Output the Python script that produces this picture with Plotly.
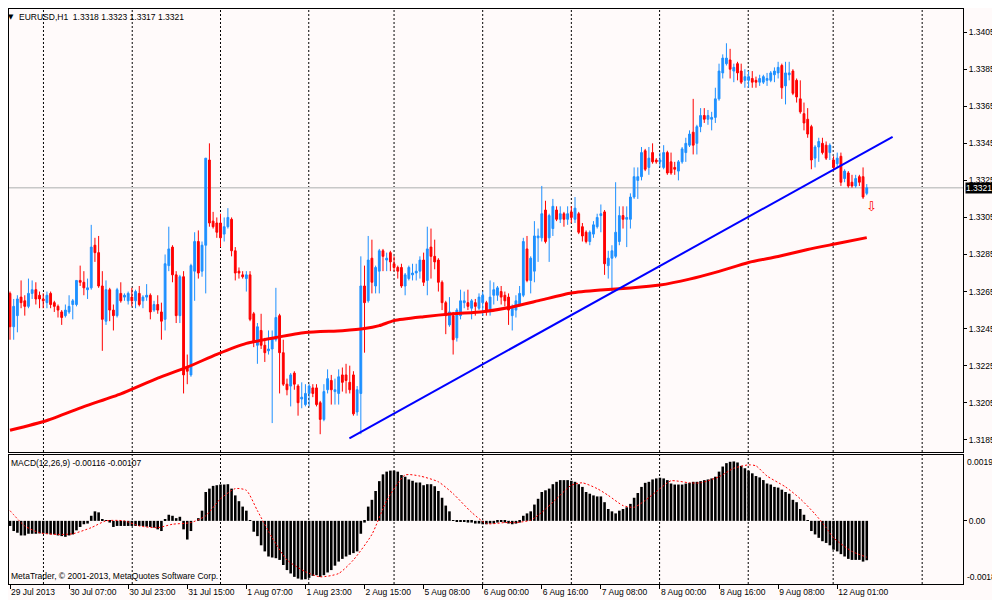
import plotly.graph_objects as go
from plotly.subplots import make_subplots

# EURUSD H1, bars 29 Jul 2013 15:00 .. 12 Aug 2013 09:00 (bar index = x)
SYMBOL = "EURUSD,H1"

OPEN = [
    1.3264, 1.3246, 1.3252, 1.3262, 1.3260, 1.3257, 1.3264, 1.3266, 1.3263, 1.3261,
    1.3259, 1.3264, 1.3259, 1.3257, 1.3254, 1.3252, 1.3254, 1.3258, 1.3258, 1.3271,
    1.3270, 1.3266, 1.3267, 1.3290, 1.3286, 1.3268, 1.3249, 1.3266, 1.3255, 1.3252,
    1.3264, 1.3262, 1.3260, 1.3262, 1.3260, 1.3264, 1.3260, 1.3262, 1.3263, 1.3255,
    1.3258, 1.3254, 1.3250, 1.3279, 1.3289, 1.3274, 1.3252, 1.3273, 1.3224, 1.3220,
    1.3276, 1.3292, 1.3276, 1.3290, 1.3336, 1.3303, 1.3302, 1.3302, 1.3296, 1.3300,
    1.3304, 1.3287, 1.3276, 1.3274, 1.3272, 1.3274, 1.3253, 1.3236, 1.3244, 1.3236,
    1.3233, 1.3234, 1.3239, 1.3252, 1.3232, 1.3215, 1.3214, 1.3221, 1.3214, 1.3207,
    1.3204, 1.3210, 1.3213, 1.3213, 1.3205, 1.3196, 1.3212, 1.3217, 1.3211, 1.3210,
    1.3220, 1.3220, 1.3216, 1.3220, 1.3200, 1.3210, 1.3268, 1.3260, 1.3283, 1.3268,
    1.3276, 1.3287, 1.3282, 1.3286, 1.3280, 1.3278, 1.3278, 1.3268, 1.3272, 1.3274,
    1.3275, 1.3276, 1.3282, 1.3271, 1.3289, 1.3284, 1.3282, 1.3270, 1.3259, 1.3247,
    1.3252, 1.3240, 1.3252, 1.3259, 1.3259, 1.3256, 1.3259, 1.3256, 1.3259, 1.3259,
    1.3255, 1.3263, 1.3263, 1.3265, 1.3263, 1.3262, 1.3252, 1.3255, 1.3258, 1.3263,
    1.3288, 1.3271, 1.3276, 1.3294, 1.3294, 1.3309, 1.3294, 1.3299, 1.3309, 1.3304,
    1.3307, 1.3304, 1.3308, 1.3304, 1.3307, 1.3300, 1.3297, 1.3292, 1.3296, 1.3300,
    1.3306, 1.3308, 1.3279, 1.3283, 1.3284, 1.3292, 1.3306, 1.3304, 1.3304, 1.3316,
    1.3325, 1.3327, 1.3341, 1.3332, 1.3340, 1.3336, 1.3335, 1.3332, 1.3340, 1.3335,
    1.3332, 1.3330, 1.3335, 1.3340, 1.3344, 1.3351, 1.3345, 1.3354, 1.3360, 1.3358,
    1.3358, 1.3359, 1.3369, 1.3383, 1.3388, 1.3390, 1.3384, 1.3388, 1.3384, 1.3379,
    1.3379, 1.3380, 1.3379, 1.3378, 1.3378, 1.3379, 1.3379, 1.3382, 1.3383, 1.3387,
    1.3376, 1.3382, 1.3384, 1.3379, 1.3369, 1.3361, 1.3358, 1.3354, 1.3337, 1.3343,
    1.3345, 1.3344, 1.3340, 1.3336, 1.3334, 1.3338, 1.3326, 1.3329, 1.3324, 1.3322,
    1.3327, 1.3327, 1.3318,
]
HIGH = [
    1.3265, 1.3261, 1.3263, 1.3271, 1.3263, 1.3272, 1.3271, 1.3270, 1.3265, 1.3264,
    1.3265, 1.3265, 1.3260, 1.3258, 1.3255, 1.3258, 1.3263, 1.3261, 1.3271, 1.3279,
    1.3276, 1.3272, 1.3301, 1.3294, 1.3295, 1.3276, 1.3271, 1.3267, 1.3258, 1.3267,
    1.3270, 1.3264, 1.3265, 1.3267, 1.3266, 1.3268, 1.3263, 1.3269, 1.3264, 1.3260,
    1.3263, 1.3259, 1.3285, 1.3300, 1.3290, 1.3276, 1.3274, 1.3276, 1.3231, 1.3280,
    1.3297, 1.3298, 1.3292, 1.3337, 1.3345, 1.3308, 1.3305, 1.3307, 1.3305, 1.3310,
    1.3305, 1.3289, 1.3278, 1.3276, 1.3276, 1.3276, 1.3254, 1.3248, 1.3253, 1.3240,
    1.3244, 1.3244, 1.3267, 1.3253, 1.3239, 1.3218, 1.3221, 1.3222, 1.3215, 1.3216,
    1.3215, 1.3215, 1.3215, 1.3215, 1.3206, 1.3215, 1.3223, 1.3220, 1.3218, 1.3223,
    1.3224, 1.3226, 1.3225, 1.3222, 1.3214, 1.3284, 1.3279, 1.3295, 1.3293, 1.3279,
    1.3288, 1.3288, 1.3286, 1.3287, 1.3284, 1.3279, 1.3280, 1.3275, 1.3279, 1.3280,
    1.3280, 1.3284, 1.3286, 1.3300, 1.3299, 1.3293, 1.3283, 1.3271, 1.3260, 1.3262,
    1.3254, 1.3256, 1.3266, 1.3265, 1.3266, 1.3261, 1.3261, 1.3264, 1.3265, 1.3260,
    1.3271, 1.3270, 1.3268, 1.3268, 1.3265, 1.3264, 1.3258, 1.3263, 1.3268, 1.3294,
    1.3295, 1.3284, 1.3303, 1.3299, 1.3322, 1.3314, 1.3307, 1.3315, 1.3311, 1.3311,
    1.3308, 1.3311, 1.3311, 1.3316, 1.3308, 1.3302, 1.3298, 1.3298, 1.3303, 1.3307,
    1.3312, 1.3309, 1.3287, 1.3290, 1.3324, 1.3311, 1.3311, 1.3311, 1.3318, 1.3332,
    1.3332, 1.3343, 1.3342, 1.3343, 1.3345, 1.3337, 1.3340, 1.3344, 1.3341, 1.3340,
    1.3335, 1.3336, 1.3343, 1.3348, 1.3352, 1.3369, 1.3355, 1.3364, 1.3364, 1.3363,
    1.3362, 1.3375, 1.3388, 1.3393, 1.3399, 1.3396, 1.3388, 1.3389, 1.3388, 1.3385,
    1.3384, 1.3384, 1.3381, 1.3382, 1.3382, 1.3383, 1.3384, 1.3386, 1.3389, 1.3388,
    1.3389, 1.3389, 1.3385, 1.3380, 1.3379, 1.3367, 1.3364, 1.3355, 1.3344, 1.3348,
    1.3348, 1.3346, 1.3345, 1.3338, 1.3340, 1.3340, 1.3331, 1.3330, 1.3328, 1.3328,
    1.3328, 1.3332, 1.3323,
]
LOW = [
    1.3239, 1.3239, 1.3243, 1.3256, 1.3252, 1.3256, 1.3261, 1.3258, 1.3256, 1.3256,
    1.3256, 1.3256, 1.3254, 1.3251, 1.3247, 1.3251, 1.3253, 1.3250, 1.3257, 1.3268,
    1.3263, 1.3261, 1.3266, 1.3281, 1.3267, 1.3233, 1.3247, 1.3249, 1.3244, 1.3251,
    1.3259, 1.3260, 1.3258, 1.3257, 1.3256, 1.3257, 1.3256, 1.3260, 1.3250, 1.3254,
    1.3253, 1.3239, 1.3244, 1.3276, 1.3270, 1.3248, 1.3248, 1.3210, 1.3215, 1.3219,
    1.3260, 1.3272, 1.3273, 1.3264, 1.3300, 1.3299, 1.3294, 1.3289, 1.3292, 1.3299,
    1.3284, 1.3271, 1.3272, 1.3272, 1.3265, 1.3249, 1.3235, 1.3226, 1.3234, 1.3227,
    1.3231, 1.3194, 1.3238, 1.3210, 1.3214, 1.3209, 1.3203, 1.3212, 1.3198, 1.3202,
    1.3203, 1.3203, 1.3208, 1.3203, 1.3188, 1.3195, 1.3210, 1.3204, 1.3204, 1.3204,
    1.3211, 1.3210, 1.3210, 1.3198, 1.3198, 1.3188, 1.3232, 1.3259, 1.3264, 1.3264,
    1.3264, 1.3276, 1.3276, 1.3276, 1.3276, 1.3272, 1.3267, 1.3263, 1.3271, 1.3271,
    1.3271, 1.3272, 1.3268, 1.3263, 1.3272, 1.3277, 1.3265, 1.3255, 1.3242, 1.3246,
    1.3231, 1.3238, 1.3250, 1.3256, 1.3255, 1.3250, 1.3252, 1.3255, 1.3252, 1.3252,
    1.3252, 1.3258, 1.3260, 1.3258, 1.3257, 1.3247, 1.3244, 1.3251, 1.3257, 1.3262,
    1.3270, 1.3264, 1.3270, 1.3281, 1.3292, 1.3291, 1.3281, 1.3295, 1.3303, 1.3302,
    1.3300, 1.3301, 1.3302, 1.3302, 1.3296, 1.3292, 1.3291, 1.3290, 1.3294, 1.3299,
    1.3297, 1.3274, 1.3272, 1.3265, 1.3283, 1.3290, 1.3299, 1.3289, 1.3299, 1.3315,
    1.3315, 1.3325, 1.3330, 1.3328, 1.3334, 1.3334, 1.3332, 1.3331, 1.3328, 1.3328,
    1.3328, 1.3325, 1.3334, 1.3335, 1.3343, 1.3339, 1.3339, 1.3351, 1.3356, 1.3355,
    1.3352, 1.3356, 1.3368, 1.3380, 1.3387, 1.3380, 1.3378, 1.3379, 1.3377, 1.3375,
    1.3375, 1.3375, 1.3375, 1.3376, 1.3377, 1.3376, 1.3378, 1.3378, 1.3380, 1.3369,
    1.3366, 1.3379, 1.3371, 1.3367, 1.3361, 1.3352, 1.3348, 1.3331, 1.3332, 1.3335,
    1.3339, 1.3336, 1.3336, 1.3331, 1.3332, 1.3322, 1.3324, 1.3321, 1.3321, 1.3321,
    1.3322, 1.3315, 1.3317,
]
CLOSE = [
    1.3246, 1.3257, 1.3261, 1.3259, 1.3257, 1.3264, 1.3266, 1.3261, 1.3261, 1.3260,
    1.3263, 1.3258, 1.3257, 1.3255, 1.3251, 1.3255, 1.3257, 1.3260, 1.3271, 1.3270,
    1.3267, 1.3267, 1.3289, 1.3286, 1.3268, 1.3250, 1.3266, 1.3255, 1.3252, 1.3266,
    1.3260, 1.3263, 1.3264, 1.3260, 1.3265, 1.3258, 1.3262, 1.3263, 1.3254, 1.3258,
    1.3255, 1.3249, 1.3280, 1.3288, 1.3274, 1.3252, 1.3273, 1.3220, 1.3222, 1.3279,
    1.3292, 1.3275, 1.3290, 1.3337, 1.3302, 1.3300, 1.3297, 1.3294, 1.3300, 1.3305,
    1.3287, 1.3275, 1.3275, 1.3273, 1.3274, 1.3250, 1.3238, 1.3246, 1.3236, 1.3232,
    1.3234, 1.3240, 1.3251, 1.3232, 1.3215, 1.3212, 1.3220, 1.3215, 1.3205, 1.3208,
    1.3210, 1.3214, 1.3210, 1.3204, 1.3196, 1.3211, 1.3218, 1.3212, 1.3212, 1.3219,
    1.3216, 1.3217, 1.3212, 1.3199, 1.3212, 1.3268, 1.3259, 1.3282, 1.3270, 1.3278,
    1.3287, 1.3284, 1.3283, 1.3281, 1.3278, 1.3276, 1.3268, 1.3274, 1.3278, 1.3275,
    1.3276, 1.3282, 1.3270, 1.3288, 1.3284, 1.3281, 1.3270, 1.3259, 1.3252, 1.3254,
    1.3239, 1.3255, 1.3260, 1.3260, 1.3257, 1.3260, 1.3257, 1.3262, 1.3263, 1.3255,
    1.3262, 1.3266, 1.3267, 1.3262, 1.3260, 1.3255, 1.3256, 1.3260, 1.3264, 1.3292,
    1.3271, 1.3283, 1.3295, 1.3295, 1.3307, 1.3292, 1.3306, 1.3311, 1.3304, 1.3307,
    1.3304, 1.3307, 1.3305, 1.3310, 1.3297, 1.3295, 1.3292, 1.3297, 1.3301, 1.3305,
    1.3307, 1.3280, 1.3283, 1.3287, 1.3297, 1.3306, 1.3304, 1.3305, 1.3316, 1.3327,
    1.3327, 1.3340, 1.3331, 1.3337, 1.3335, 1.3335, 1.3336, 1.3340, 1.3329, 1.3329,
    1.3331, 1.3335, 1.3342, 1.3345, 1.3350, 1.3344, 1.3354, 1.3360, 1.3358, 1.3360,
    1.3359, 1.3369, 1.3384, 1.3391, 1.3391, 1.3385, 1.3386, 1.3383, 1.3378, 1.3381,
    1.3381, 1.3378, 1.3378, 1.3380, 1.3381, 1.3380, 1.3383, 1.3384, 1.3386, 1.3375,
    1.3383, 1.3383, 1.3372, 1.3370, 1.3362, 1.3356, 1.3350, 1.3336, 1.3343, 1.3346,
    1.3340, 1.3337, 1.3344, 1.3332, 1.3337, 1.3324, 1.3330, 1.3322, 1.3322, 1.3326,
    1.3324, 1.3316, 1.3321,
]

TICK_BARS = [0, 16, 32, 48, 64, 80, 96, 112, 128, 144, 160, 176, 192, 208, 224]
TICK_LABELS = ["29 Jul 2013", "30 Jul 07:00", "30 Jul 23:00", "31 Jul 15:00",
               "1 Aug 07:00", "1 Aug 23:00", "2 Aug 15:00", "5 Aug 08:00",
               "6 Aug 00:00", "6 Aug 16:00", "7 Aug 08:00", "8 Aug 00:00",
               "8 Aug 16:00", "9 Aug 08:00", "12 Aug 01:00"]

# moving average (red), read every few bars
MA_BARS = [0, 10, 20, 30, 40, 48, 56, 64, 72, 80, 90, 96, 100, 104, 112, 120,
           128, 136, 144, 152, 160, 168, 176, 184, 192, 200, 208, 216, 224, 232]
MA_PRICE = [1.31901, 1.31954, 1.32029, 1.32098, 1.32183, 1.32242, 1.32311, 1.32370,
            1.32402, 1.32429, 1.32439, 1.32450, 1.32466, 1.32493, 1.32514, 1.32530,
            1.32541, 1.32567, 1.32605, 1.32642, 1.32658, 1.32669, 1.32685, 1.32717,
            1.32759, 1.32807, 1.32839, 1.32877, 1.32909, 1.32941]

# trend line (blue)
TREND_BARS = [91.9, 239.0]
TREND_PRICE = [1.31858, 1.33485]

BID = 1.3321

# MACD(12,26,9) histogram, in 0.00001
MACD_E5 = [
    -15, -30, -35, -43, -43, -38, -38, -38, -37, -37,
    -38, -40, -40, -43, -45, -47, -43, -40, -28, -18,
    -10, -8, 15, 28, 25, 3, 2, -5, -18, -15,
    -15, -15, -15, -15, -15, -15, -15, -17, -18, -20,
    -25, -30, 5, 18, 15, 8, 12, -25, -55, -30,
    0, 8, 30, 85, 95, 103, 105, 107, 107, 108,
    95, 75, 58, 42, 30, 2, -32, -45, -72, -90,
    -105, -108, -110, -115, -130, -145, -155, -165, -170, -173,
    -172, -168, -162, -160, -165, -160, -152, -145, -132, -120,
    -112, -105, -100, -95, -90, -38, -5, 42, 62, 88,
    117, 137, 145, 148, 148, 145, 135, 130, 122, 118,
    113, 113, 105, 108, 108, 102, 88, 68, 45, 28,
    2, -2, -2, -3, -5, -5, -8, -8, -10, -10,
    -8, -8, -5, -3, -5, -8, -10, -8, -5, 15,
    22, 28, 48, 65, 85, 90, 95, 108, 115, 120,
    120, 120, 118, 115, 108, 100, 85, 80, 75, 72,
    72, 55, 35, 28, 22, 30, 35, 40, 50, 68,
    82, 100, 112, 115, 122, 125, 127, 125, 120, 110,
    107, 107, 107, 110, 112, 115, 115, 117, 120, 122,
    125, 130, 145, 160, 170, 174, 175, 172, 162, 155,
    148, 140, 132, 128, 120, 110, 107, 100, 98, 92,
    85, 80, 62, 55, 35, 18, 1, -30, -40, -50,
    -60, -65, -72, -85, -90, -98, -105, -112, -115, -115,
    -115, -120, -116,
]
# signal line (red dotted), read every few bars, in 0.00001
SIGNAL_BARS = [0, 4, 8, 13, 17, 22, 26, 31, 35, 40, 44, 49, 53, 57, 61, 64, 67,
               71, 75, 80, 84, 89, 93, 98, 102, 107, 111, 116, 120, 125, 129,
               134, 137, 141, 144, 148, 152, 155, 159, 162, 166, 169, 172, 176,
               179, 184, 187, 192, 196, 200, 202, 205, 210, 214, 218, 221, 223,
               228, 232]
SIGNAL_E5 = [30, -15, -35, -40, -38, -20, 0, 0, -15, -20, -10, -5, 15, 65, 95, 90,
             30, -50, -115, -150, -165, -155, -115, -40, 60, 135, 132, 115, 80,
             25, -8, -5, -5, 2, 25, 65, 105, 112, 95, 75, 45, 40, 60, 95, 118,
             112, 112, 130, 155, 165, 162, 132, 100, 65, 20, -20, -50, -90, -107]

PRICE_TICKS = [1.3185, 1.3205, 1.3225, 1.3245, 1.3265, 1.3285, 1.3305,
               1.3325, 1.3345, 1.3365, 1.3385, 1.3405]
MACD_MAX = 0.00194
MACD_MIN = -0.00186

# sell arrow below the last bars
ARROW_BAR = 233.3
ARROW_PRICE = 1.3311

# vertical dotted grid
GRID_BARS = [9.06, 33.1, 57.0, 80.9, 104.0, 128.0, 152.0, 175.9, 199.9, 222.9, 247.0]

BULL = "#1E90FF"
BEAR = "#FF0000"
BG = "#fffafa"
FONT = "Liberation Sans"

bars = list(range(len(OPEN)))

fig = make_subplots(rows=2, cols=1, shared_xaxes=True)

fig.add_trace(go.Candlestick(
    x=bars, open=OPEN, high=HIGH, low=LOW, close=CLOSE,
    increasing=dict(line=dict(color=BULL, width=1), fillcolor=BULL),
    decreasing=dict(line=dict(color=BEAR, width=1), fillcolor=BEAR),
    hoverinfo="skip"), row=1, col=1)

fig.add_trace(go.Scatter(x=MA_BARS, y=MA_PRICE, mode="lines",
                         line=dict(color="#FF0000", width=3, shape="spline", smoothing=0.6),
                         hoverinfo="skip"), row=1, col=1)
fig.add_trace(go.Scatter(x=TREND_BARS, y=TREND_PRICE, mode="lines",
                         line=dict(color="#0000FF", width=2), hoverinfo="skip"),
              row=1, col=1)

fig.add_trace(go.Bar(x=bars, y=[v * 1e-5 for v in MACD_E5], width=0.7,
                     marker=dict(color="#000000", line=dict(width=0)),
                     hoverinfo="skip"), row=2, col=1)
fig.add_trace(go.Scatter(x=SIGNAL_BARS, y=[v * 1e-5 for v in SIGNAL_E5],
                         mode="lines",
                         line=dict(color="#FF0000", width=1, dash="2px,2px",
                                   shape="spline", smoothing=0.6),
                         hoverinfo="skip"), row=2, col=1)

# grid lines through both panels
for gx in GRID_BARS:
    for yr in ["y domain", "y2 domain"]:
        fig.add_shape(type="line", xref="x", yref=yr, x0=gx, x1=gx, y0=0, y1=1,
                      line=dict(color="#000000", width=1, dash="2px,2px"), layer="below")

# bid line
fig.add_shape(type="line", xref="x domain", yref="y", x0=0, x1=1, y0=BID, y1=BID,
              line=dict(color="#c8c8c8", width=1.5), layer="below")

axis_font = dict(family=FONT, size=8.5, color="#000000")

# the page body adds 8px around the figure, so the figure is 8px smaller
fig.update_layout(
    width=992, height=592,
    margin=dict(l=1, r=37, t=1, b=16),
    paper_bgcolor=BG, plot_bgcolor=BG,
    showlegend=False,
    font=axis_font,
    xaxis=dict(range=[-0.27, 258.06], showgrid=False, zeroline=False,
               showticklabels=False, ticks="", showline=True, mirror=True,
               linecolor="#000000", linewidth=1, rangeslider=dict(visible=False)),
    xaxis2=dict(range=[-0.27, 258.06], showgrid=False, zeroline=False,
                tickmode="array", tickvals=TICK_BARS, ticktext=TICK_LABELS,
                ticks="outside", ticklen=4, tickcolor="#000000",
                ticklabelposition="outside right", tickfont=axis_font,
                showline=True, mirror=True, linecolor="#000000", linewidth=1),
    yaxis=dict(domain=[0.22957, 1.0], range=[1.31784, 1.34175], side="right",
               showgrid=False, zeroline=False, tickmode="array",
               tickvals=PRICE_TICKS, ticktext=[f"{p:.4f}" for p in PRICE_TICKS],
               ticks="outside", ticklen=3, tickcolor="#000000", tickfont=axis_font,
               showline=True, mirror=True, linecolor="#000000", linewidth=1),
    yaxis2=dict(domain=[0.0, 0.22435], range=[MACD_MIN, MACD_MAX], side="right",
                showgrid=False, zeroline=False, tickmode="array",
                tickvals=[0], ticktext=["0.00"], ticks="outside", ticklen=3,
                tickcolor="#000000", tickfont=axis_font,
                showline=True, mirror=True, linecolor="#000000", linewidth=1),
)

# paper coords (page pixels): x = (px - 9) / 954, y = (584 - py) / 575
header = (f"{SYMBOL}\u00a0 {OPEN[-1]:.4f} {HIGH[-1]:.4f} "
          f"{LOW[-1]:.4f} {CLOSE[-1]:.4f}")
macd_header = f"MACD(12,26,9) {MACD_E5[-1] * 1e-5:.5f} {SIGNAL_E5[-1] * 1e-5:.5f}"

notes = [
    dict(text="▼", x=0.0016, y=1.0, xanchor="center", yanchor="top", yshift=-2,
         font=dict(family="DejaVu Sans", size=7)),
    dict(text=header, x=0.0084, y=1.0, xanchor="left", yanchor="top", yshift=-1),
    dict(text=macd_header, x=0.0, y=0.2104, xanchor="left", yanchor="middle"),
    dict(text="MetaTrader, © 2001-2013, MetaQuotes Software Corp.", x=0.0, y=0.0139,
         xanchor="left", yanchor="middle"),
]
for n in notes:
    fig.add_annotation(xref="paper", yref="paper", showarrow=False,
                       font=n.pop("font", axis_font), **n)

# MACD scale labels sit inside the panel edges
fig.add_annotation(xref="paper", yref="y2", x=1, y=MACD_MAX, xanchor="left", yanchor="top",
                   xshift=2, text=f"{MACD_MAX:.5f}", showarrow=False, font=axis_font)
fig.add_annotation(xref="paper", yref="y2", x=1, y=MACD_MIN, xanchor="left", yanchor="bottom",
                   xshift=2, text=f"{MACD_MIN:.5f}", showarrow=False, font=axis_font)

# current price box
fig.add_annotation(xref="paper", yref="y", x=1, y=BID, xanchor="left", yanchor="middle",
                   xshift=2, text=f"{BID:.4f}", showarrow=False, bgcolor="#000000",
                   borderpad=0, font=dict(family=FONT, size=8.5, color="#ffffff"))

# sell arrow
fig.add_annotation(x=ARROW_BAR, y=ARROW_PRICE, xref="x", yref="y", text="⇩",
                   showarrow=False, font=dict(family="DejaVu Sans", size=13, color="#FF0000"))

fig.write_html("out.html")
